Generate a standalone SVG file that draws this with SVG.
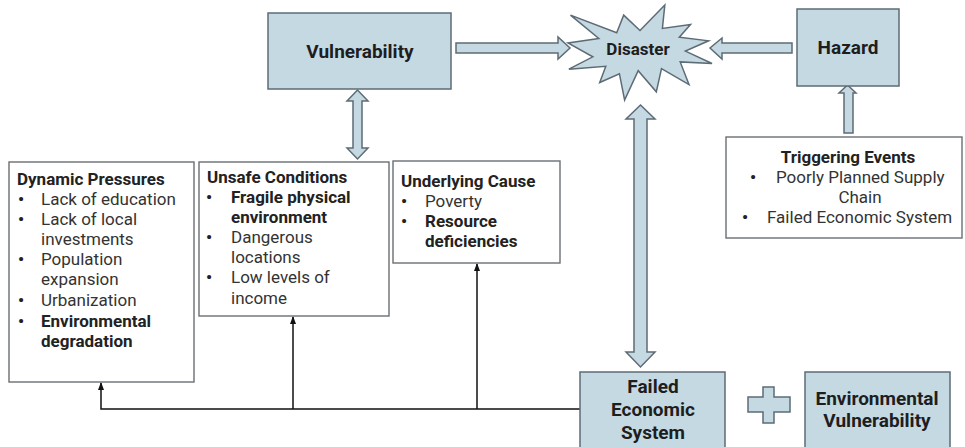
<svg xmlns="http://www.w3.org/2000/svg" width="965" height="447" viewBox="0 0 965 447">
<defs>
<style>
.blue{fill:#c5d9e3;stroke:#5d6b75;stroke-width:1.5}
.white{fill:#ffffff;stroke:#6b6f73;stroke-width:1.4}
.t{font-family:Roboto,"Liberation Sans",sans-serif;font-size:17px;fill:#333}
.b{font-family:Roboto,"Liberation Sans",sans-serif;font-size:17px;font-weight:bold;fill:#222}
.bu{font-family:Roboto,"Liberation Sans",sans-serif;font-size:17px;font-weight:bold;fill:#222;text-anchor:middle}
.big{font-family:Roboto,"Liberation Sans",sans-serif;font-weight:bold;fill:#1e1e1e;text-anchor:middle}
.line{fill:none;stroke:#111;stroke-width:1.5}
</style>
<marker id="ah" markerWidth="8" markerHeight="6" refX="7" refY="3" orient="auto" markerUnits="userSpaceOnUse" viewBox="0 0 8 6">
<path d="M0,0 L8,3 L0,6 Z" fill="#111"/>
</marker>
</defs>
<rect width="965" height="447" fill="#ffffff"/>

<g id="connectors">
<polygon class="blue" points="456,43 558,43 558,37 570,48 558,59 558,53 456,53"/>
<polygon class="blue" points="792,43 722,43 722,38 710,48 722,59 722,53 792,53"/>
<polygon class="blue" points="353,101 347,101 357.5,90 368,101 362,101 362,148 368,148 357.5,159 347,148 353,148"/>
<polygon class="blue" points="844,133 844,93 839,93 847.5,85 856,93 853,93 853,133"/>
<polygon class="blue" points="634,119 626,119 640.5,105 655,119 647,119 647,352 655,352 640.5,367 626,352 634,352"/>
<polygon class="blue" points="763,387 774,387 774,397 790,397 790,412 774,412 774,423 763,423 763,412 748,412 748,397 763,397"/>
<polyline class="line" points="580,409 101,409 101,383" marker-end="url(#ah)"/>
<line class="line" x1="293" y1="409" x2="293" y2="317" marker-end="url(#ah)"/>
<line class="line" x1="477" y1="409" x2="477" y2="264" marker-end="url(#ah)"/>
</g>

<g id="vulnerability">
<rect class="blue" x="268" y="13" width="183" height="76"/>
<text class="big" x="360" y="58" font-size="19">Vulnerability</text>
</g>

<g id="disaster">
<polygon class="blue" points="640,30.5 664.8,5 662.4,28.4 690.5,24.6 679.3,37.2 708.6,40.8 685.4,51.1 712,63.5 680.2,61.9 689,84.6 661.5,68.6 656.3,91.8 638.2,70.7 624.6,100 619.4,73.7 599.7,82.5 605.8,66.3 568.9,69.2 592.8,56.8 568,42.9 598.8,38.5 570.5,15.1 616.7,32.8 623.7,15.1"/>
<text class="big" x="638" y="55" font-size="17">Disaster</text>
</g>

<g id="hazard">
<rect class="blue" x="797" y="9" width="102" height="77"/>
<text class="big" x="848" y="54" font-size="19">Hazard</text>
</g>

<g id="triggering">
<rect class="white" x="726" y="137" width="236" height="101"/>
<text class="b" x="848" y="163" text-anchor="middle">Triggering Events</text>
<text class="bu" x="753" y="183">•</text>
<text class="t" x="776" y="183">Poorly Planned Supply</text>
<text class="t" x="860" y="203" text-anchor="middle">Chain</text>
<text class="bu" x="745" y="223">•</text>
<text class="t" x="767" y="223">Failed Economic System</text>
</g>

<g id="dynamic">
<rect class="white" x="9" y="162" width="185" height="220"/>
<text class="b" x="17" y="185">Dynamic Pressures</text>
<text class="bu" x="21" y="205">•</text>
<text class="t" x="41" y="205">Lack of education</text>
<text class="bu" x="21" y="225">•</text>
<text class="t" x="41" y="225">Lack of local</text>
<text class="t" x="41" y="245">investments</text>
<text class="bu" x="21" y="265">•</text>
<text class="t" x="41" y="265">Population</text>
<text class="t" x="41" y="285">expansion</text>
<text class="bu" x="21" y="306">•</text>
<text class="t" x="41" y="306">Urbanization</text>
<text class="bu" x="21" y="327">•</text>
<text class="b" x="41" y="327">Environmental</text>
<text class="b" x="41" y="347">degradation</text>
</g>

<g id="unsafe">
<rect class="white" x="199" y="162" width="190" height="154"/>
<text class="b" x="207" y="183">Unsafe Conditions</text>
<text class="bu" x="209" y="203">•</text>
<text class="b" x="231" y="203">Fragile physical</text>
<text class="b" x="231" y="223">environment</text>
<text class="bu" x="209" y="243">•</text>
<text class="t" x="231" y="243">Dangerous</text>
<text class="t" x="231" y="263">locations</text>
<text class="bu" x="209" y="283">•</text>
<text class="t" x="231" y="283">Low levels of</text>
<text class="t" x="231" y="304">income</text>
</g>

<g id="underlying">
<rect class="white" x="393" y="161" width="167" height="102"/>
<text class="b" x="401" y="187">Underlying Cause</text>
<text class="bu" x="404" y="207">•</text>
<text class="t" x="425" y="207">Poverty</text>
<text class="bu" x="404" y="227">•</text>
<text class="b" x="425" y="227">Resource</text>
<text class="b" x="425" y="247">deficiencies</text>
</g>

<g id="failed">
<rect class="blue" x="580" y="372" width="145" height="80"/>
<text class="big" x="653" y="393" font-size="19">Failed</text>
<text class="big" x="653" y="416" font-size="19">Economic</text>
<text class="big" x="653" y="439" font-size="19">System</text>
</g>

<g id="environmental">
<rect class="blue" x="805" y="372" width="145" height="80"/>
<text class="big" x="877" y="405" font-size="19">Environmental</text>
<text class="big" x="877" y="427" font-size="19">Vulnerability</text>
</g>
</svg>
